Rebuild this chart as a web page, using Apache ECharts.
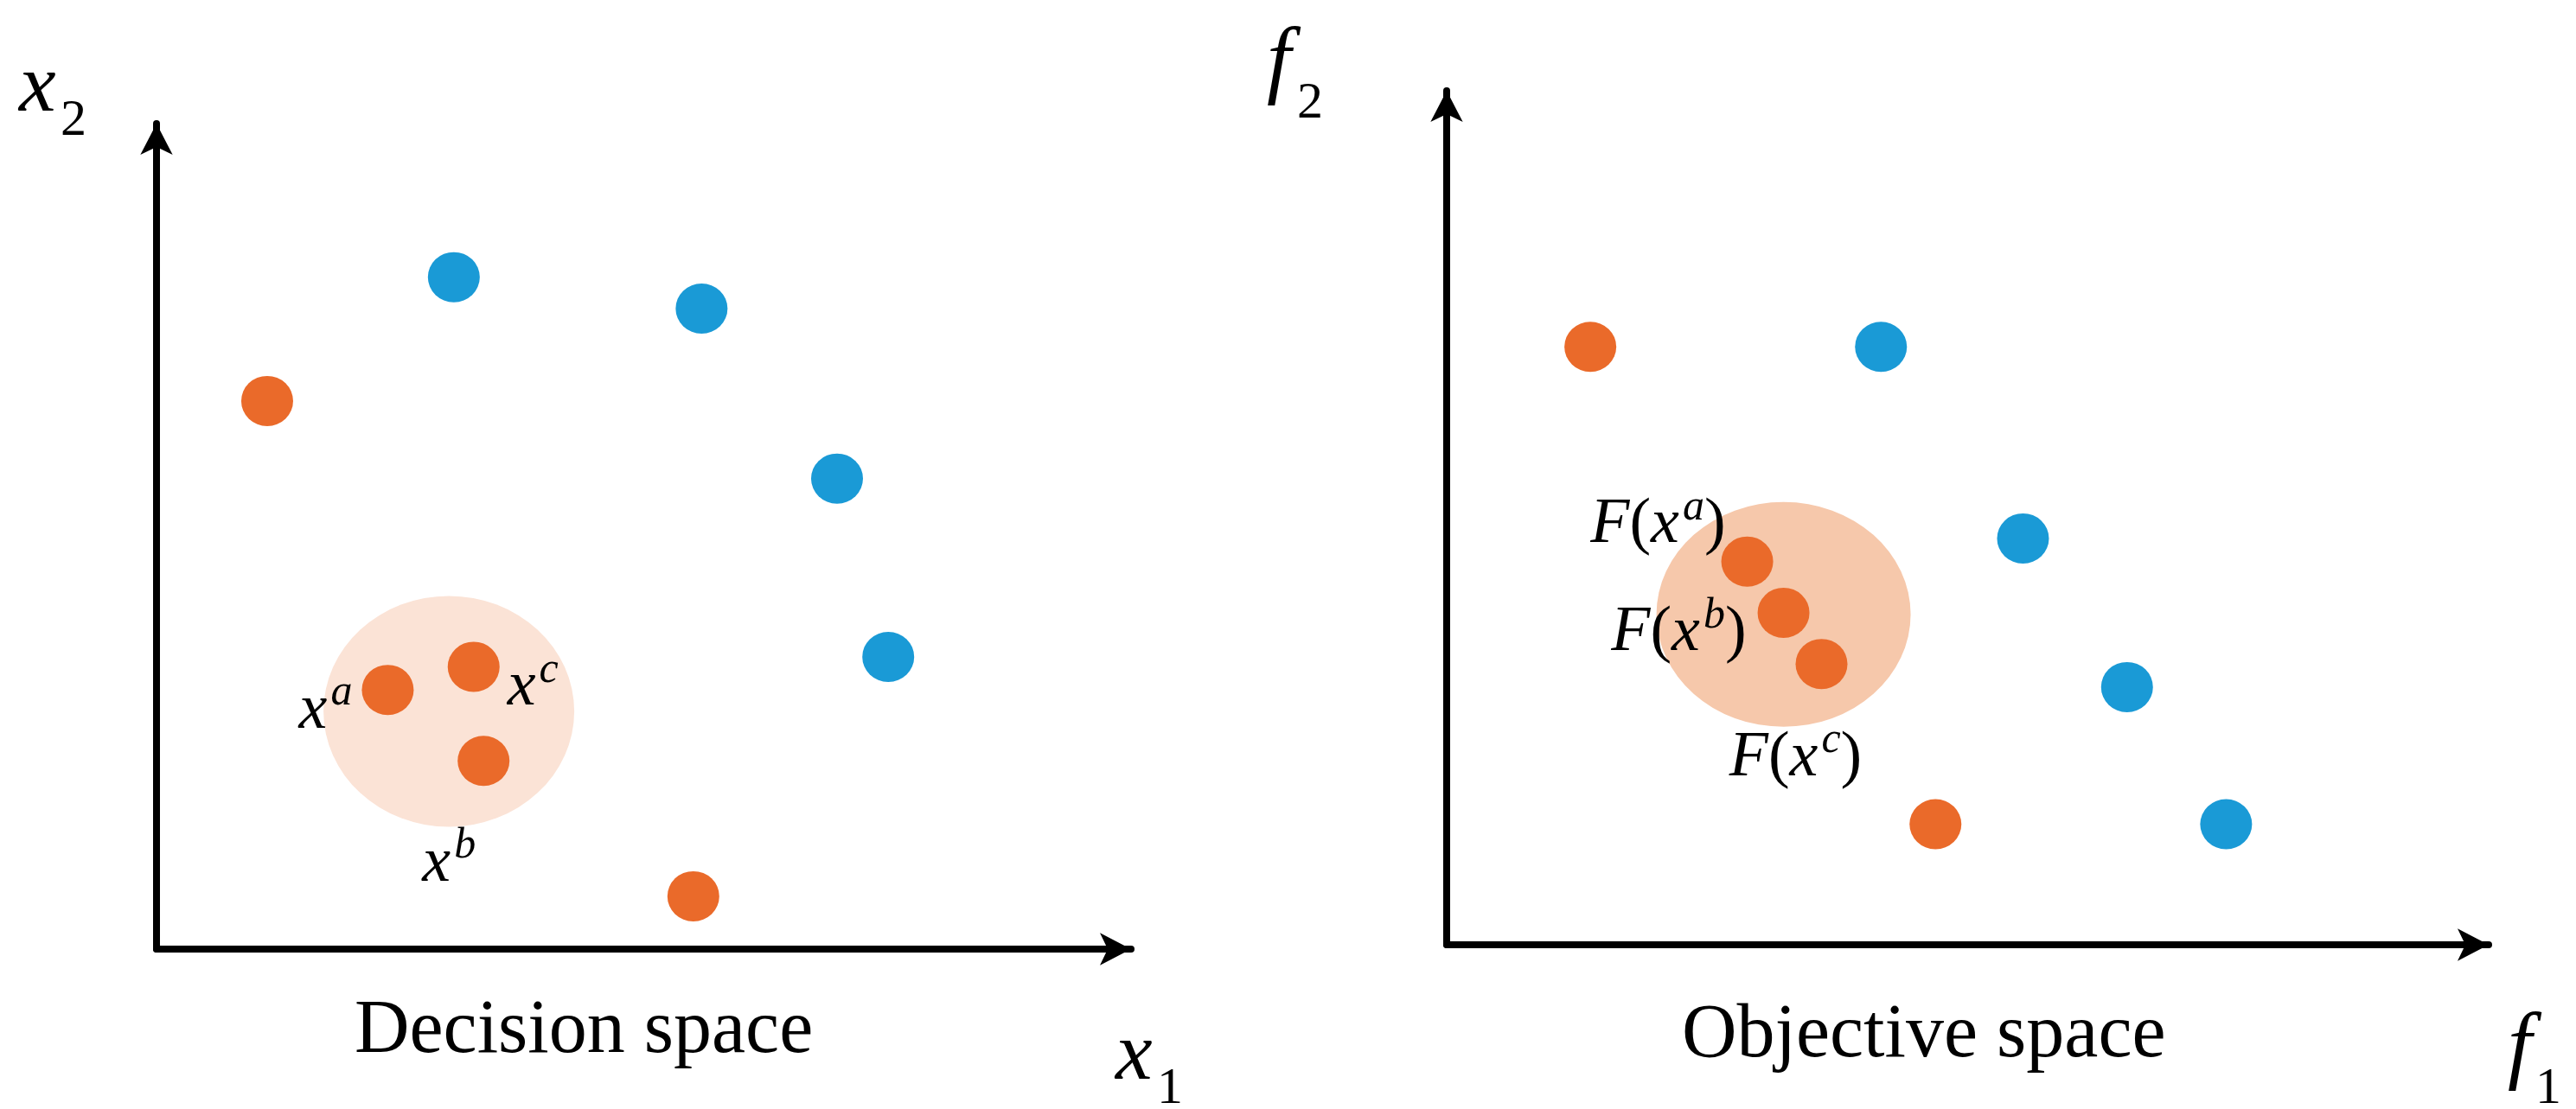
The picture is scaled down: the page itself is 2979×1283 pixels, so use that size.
<!DOCTYPE html>
<html>
<head>
<meta charset="utf-8">
<script src="https://cdn.jsdelivr.net/npm/echarts@6/dist/echarts.min.js"></script>
<style>html,body{margin:0;background:#fff}#c{width:2979px;height:1283px}</style>
</head>
<body>
<div id="c"></div>
<script>
// decision space (x1, x2)
var decBlue = [[180, 407], [330, 388], [412, 285], [443, 177]];
var decOrange = [[67, 332], [140, 157], [192, 171], [198, 114], [325, 32]];
var decLabels = ['', 'a', 'c', 'b', ''];
var decCluster = [[177, 144]];
// objective space (f1, f2)
var objBlue = [[263, 362], [349, 246], [412, 156], [472, 73]];
var objOrange = [[87, 362], [182, 232], [204, 201], [227, 170], [296, 73]];
var objLabels = ['', 'a', 'b', 'c', ''];
var objCluster = [[204, 200]];

var blue = '#1a9ad6', orange = '#ea6a2a';
var myChart = echarts.init(document.getElementById('c'));

function axisArrow(gi, max) {
    return {
        type: 'value', gridIndex: gi, min: 0, max: max,
        axisLine: {show: true, symbol: ['none', 'arrow'], symbolSize: [28, 36], symbolOffset: [0, 0],
            lineStyle: {color: '#000', width: 8}},
        axisTick: {show: false}, axisLabel: {show: false}, splitLine: {show: false}
    };
}

var rich = {
    i: {fontFamily: 'Liberation Serif', fontStyle: 'italic', fontSize: 74, color: '#000'},
    n: {fontFamily: 'Liberation Serif', fontSize: 74, color: '#000'},
    s: {fontFamily: 'Liberation Serif', fontStyle: 'italic', fontSize: 50, color: '#000', verticalAlign: 'top', padding: [0, 0, 40, 4]}
};
var decPos = {a: ['left', [-6, 24]], b: ['bottom', [-40, 40]], c: ['right', [4, 24]]};
var objPos = {a: ['left', [10, -42]], b: ['left', [-8, 24]], c: ['bottom', [-30, 30]]};

function dots(data, labels, pos, fn) {
    return data.map(function (d, k) {
        var l = labels && labels[k];
        if (!l) return {value: d};
        return {value: d, label: {show: true, position: pos[l][0], offset: pos[l][1], color: '#000',
            formatter: fn(l), rich: rich}};
    });
}

var dot = {color: null, opacity: 1};
function style(c) { return {color: c, opacity: 1}; }

var option = {
    animation: false,
    grid: [
        {left: 181, top: 143, width: 1127, height: 955},
        {left: 1673, top: 105, width: 1205, height: 988}
    ],
    xAxis: [axisArrow(0, 590), axisArrow(1, 631)],
    yAxis: [axisArrow(0, 500), axisArrow(1, 517)],
    series: [
        {type: 'scatter', xAxisIndex: 0, yAxisIndex: 0, data: decCluster, symbolSize: [290, 267],
            itemStyle: style('#fbe3d6'), silent: true},
        {type: 'scatter', xAxisIndex: 1, yAxisIndex: 1, data: objCluster, symbolSize: [294, 260],
            itemStyle: style('#f6c8ab'), silent: true},
        {type: 'scatter', xAxisIndex: 0, yAxisIndex: 0, data: decBlue, symbolSize: [60, 58], itemStyle: style(blue)},
        {type: 'scatter', xAxisIndex: 0, yAxisIndex: 0, symbolSize: [60, 58], itemStyle: style(orange),
            data: dots(decOrange, decLabels, decPos, function (l) { return '{i|x}{s|' + l + '}'; })},
        {type: 'scatter', xAxisIndex: 1, yAxisIndex: 1, data: objBlue, symbolSize: [60, 58], itemStyle: style(blue)},
        {type: 'scatter', xAxisIndex: 1, yAxisIndex: 1, symbolSize: [60, 58], itemStyle: style(orange),
            data: dots(objOrange, objLabels, objPos, function (l) { return '{i|F}{n|(}{i|x}{s|' + l + '}{n|)}'; })}
    ],
    graphic: [
        {type: 'text', left: 22, top: 55, style: {text: 'x', font: 'italic 96px Liberation Serif', fill: '#000'}},
        {type: 'text', left: 70, top: 110, style: {text: '2', font: '60px Liberation Serif', fill: '#000'}},
        {type: 'text', left: 1290, top: 1175, style: {text: 'x', font: 'italic 96px Liberation Serif', fill: '#000'}},
        {type: 'text', left: 1338, top: 1230, style: {text: '1', font: '60px Liberation Serif', fill: '#000'}},
        {type: 'text', left: 1465, top: 25, style: {text: 'f', font: 'italic 100px Liberation Serif', fill: '#000'}},
        {type: 'text', left: 1500, top: 90, style: {text: '2', font: '60px Liberation Serif', fill: '#000'}},
        {type: 'text', left: 2900, top: 1165, style: {text: 'f', font: 'italic 100px Liberation Serif', fill: '#000'}},
        {type: 'text', left: 2932, top: 1230, style: {text: '1', font: '60px Liberation Serif', fill: '#000'}},
        {type: 'text', left: 410, top: 1150, style: {text: 'Decision space', font: '88px Liberation Serif', fill: '#000'}},
        {type: 'text', left: 1945, top: 1155, style: {text: 'Objective space', font: '88px Liberation Serif', fill: '#000'}}
    ]
};
myChart.setOption(option);
</script>
</body>
</html>
